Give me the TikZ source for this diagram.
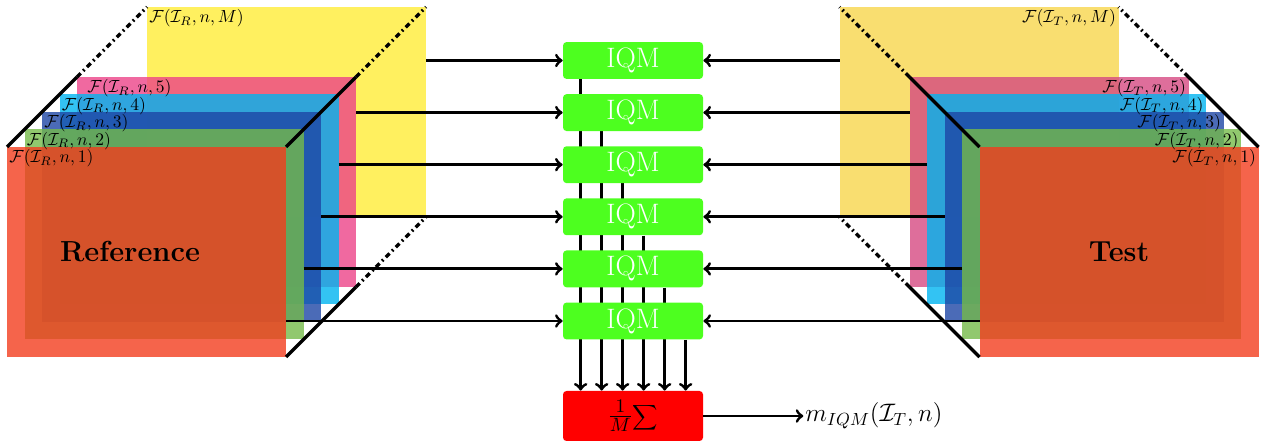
\documentclass[tikz,border=0pt]{standalone}
\usetikzlibrary{positioning,calc,backgrounds}
\definecolor{cRed}{RGB}{242,61,30}
\definecolor{cGreen}{RGB}{117,186,74}
\definecolor{cDarkBlue}{RGB}{30,70,165}
\definecolor{cCyan}{RGB}{0,180,240}
\definecolor{cPink}{RGB}{236,67,136}
\definecolor{cPinkT}{RGB}{214,74,130}
\definecolor{cYellow}{RGB}{255,236,55}
\definecolor{cYellowT}{RGB}{248,214,76}
\definecolor{cIqm}{RGB}{77,255,31}
\tikzset{
  plane/.style={minimum width=5.58cm, minimum height=4.2cm, inner sep=0pt, outer sep=0pt, fill opacity=0.8},
  lbl/.style={inner sep=1.2pt},
  iqm/.style={fill=cIqm, rounded corners=2pt, minimum width=2.8cm, minimum height=0.7cm, text=white, font=\fontsize{16}{19}\selectfont},
  sumbox/.style={fill=red, rounded corners=2pt, minimum width=2.8cm, minimum height=1cm, font=\fontsize{15}{18}\selectfont},
  flow/.style={->, line width=1.7pt},
  rim/.style={line width=1.9pt},
  rimdash/.style={line width=1.9pt, dash pattern=on 3pt off 2pt on 1pt off 2pt},
  bigname/.style={font=\fontsize{16.5}{20}\selectfont\bfseries}
}
\begin{document}
\begin{tikzpicture}
	\useasboundingbox (0,0) rectangle (25.24,8.84);
	%Stapel links und rechts
	\foreach \fr/\sh/\col in {M/8/cYellow,5/4/cPink,4/3/cCyan,3/2/cDarkBlue,2/1/cGreen,1/0/cRed}
		\node[plane, fill=\col] (fL\fr) at ({2.93+0.35*\sh},{3.80+0.35*\sh}) {};
	\foreach \fr/\sh/\col in {M/8/cYellowT,5/4/cPinkT,4/3/cCyan,3/2/cDarkBlue,2/1/cGreen,1/0/cRed}
		\node[plane, fill=\col] (fR\fr) at ({22.38-0.35*\sh},{3.80+0.35*\sh}) {};
	\foreach \cor in {north west,north east,south east} {
		\draw[rim] (fL1.\cor) -- (fL5.\cor);
		\draw[rimdash] (fL5.\cor) -- (fLM.\cor);
	}
	\foreach \cor in {north east,north west,south west} {
		\draw[rim] (fR1.\cor) -- (fR5.\cor);
		\draw[rimdash] (fR5.\cor) -- (fRM.\cor);
	}
	\foreach \fr/\dx in {M/0,5/0.16,4/0,3/0,2/0,1/0}
		\node[lbl, anchor=north west, xshift=\dx cm] (tL\fr) at (fL\fr.north west) {$\mathcal{F}(\mathcal{I}_R,n,\fr)$};
	\foreach \fr in {M,5,4,3,2,1}
		\node[lbl, anchor=north east] (tR\fr) at (fR\fr.north east) {$\mathcal{F}(\mathcal{I}_T,n,\fr)$};
	\node[bigname] (ref) at ([xshift=-0.33cm]fL1.center) {Reference};
	\node[bigname] (test) at (fR1.center) {Test};
	%IQM
	\foreach \row in {1,...,6}
		\node[iqm] (iqm\row) at (12.66,{7.63-1.042*(\row-1)}) {IQM};
	\node[sumbox] (sum) at (12.66,0.52) {$\frac{1}{M}$\fontsize{11}{13}\selectfont$\displaystyle\sum$};
	\node[right=2cm of sum, inner sep=1pt, font=\Large] (out) {$m_{IQM}(\mathcal{I}_T,n)$};
	\foreach \row/\fr in {1/M,2/5,3/4,4/3,5/2,6/1} {
		\draw[flow] (iqm\row -| fL\fr.east) -- (iqm\row.west);
		\draw[flow] (iqm\row -| fR\fr.west) -- (iqm\row.east);
	}
	\begin{pgfonlayer}{background}
		\foreach \row in {1,...,6} {
			\coordinate (c\row) at ([xshift={0.36cm+0.42cm*(\row-1)}]iqm\row.south west);
			\draw[flow] (c\row) -- (c\row |- sum.north);
		}
	\end{pgfonlayer}
	\draw[flow] (sum) -- (out);
\end{tikzpicture}
\end{document}
